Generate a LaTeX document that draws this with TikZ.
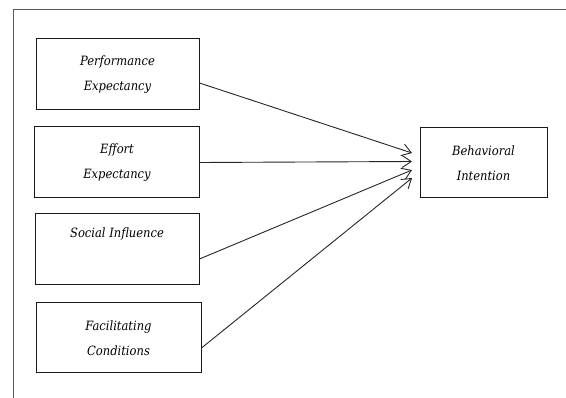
\documentclass[tikz,border=0pt]{standalone}
\usepackage{fontspec}
\setmainfont{DejaVu Serif Condensed}
\usetikzlibrary{arrows.meta}
\begin{document}
\begin{tikzpicture}[x=1pt,y=-1pt,
  box/.style={draw=black!90,line width=1pt,rectangle,inner sep=0pt,align=center,
    font=\fontsize{12.8}{25.5}\selectfont\itshape,text=black},
  conn/.style={draw=black!85,line width=0.9pt,-{Straight Barb[length=9pt,width=12pt,line width=0.9pt]}},
  frame/.style={draw=black!65,line width=1.3pt}]
\useasboundingbox (0,0) rectangle (566,398);
\draw[frame] (566,9.5) -- (13.5,9.5) -- (13.5,398);
\node[box,minimum width=163,minimum height=71] (pe) at (117.5,74.5) {Performance\\Expectancy};
\node[box,minimum width=165,minimum height=71] (ee) at (117,162.5) {Effort\\Expectancy};
\node[box,minimum width=164,minimum height=71] (si) at (117,249.5) {Social Influence\\\strut};
\node[box,minimum width=165,minimum height=70] (fc) at (118.5,338) {Facilitating\\Conditions};
\node[box,minimum width=127,minimum height=70] (bi) at (483.5,163) {Behavioral\\Intention};
\coordinate (t1) at (412,153);
\coordinate (t2) at (412,161.5);
\coordinate (t3) at (412,170);
\coordinate (t4) at (412,178);
\draw[conn] ([yshift=-8.5]pe.east) -- (t1);
\draw[conn] (ee.east) -- (t2);
\draw[conn] ([yshift=-9.5]si.east) -- (t3);
\draw[conn] ([yshift=-10]fc.east) -- (t4);
\end{tikzpicture}
\end{document}
